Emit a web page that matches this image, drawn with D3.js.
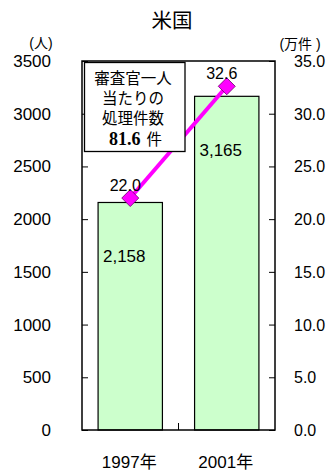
<!DOCTYPE html>
<html>
<head>
<meta charset="utf-8">
<script src="https://cdn.jsdelivr.net/npm/d3@7"></script>
<style>
  html, body { margin: 0; padding: 0; background: #fff; }
  svg { display: block; }
  text { font-family: "Liberation Sans", Arial, "Noto Sans CJK JP", sans-serif; fill: #000; }
  .jp { font-family: "Noto Sans CJK JP", "Noto Sans CJK SC", sans-serif; }
</style>
</head>
<body>
<svg id="chart" width="327" height="473"></svg>
<script>
// Examiners (people) and cases handled (10,000 cases), USA
const categories = ["1997年", "2001年"];
const examiners = [2158, 3165];
const casesPerYear = [22.0, 32.6];
const leftTicks = [0, 500, 1000, 1500, 2000, 2500, 3000, 3500];
const rightTicks = [0, 5, 10, 15, 20, 25, 30, 35];
const noteLines = ["審査官一人", "当たりの", "処理件数"];
const noteValue = 81.6;

const svg = d3.select("#chart");
const plot = { left: 82, right: 275, top: 61, bottom: 430 };

const x = d3.scaleBand()
  .domain(categories)
  .range([plot.left, plot.right])
  .paddingInner(1 / 3)
  .paddingOuter(1 / 6);
const xCat = d3.scaleBand().domain(categories).range([plot.left, plot.right]);
const yL = d3.scaleLinear().domain([0, 3500]).range([plot.bottom, plot.top]);
const yR = d3.scaleLinear().domain([0, 35]).range([plot.bottom, plot.top]);

// Title
svg.append("text").attr("class", "jp")
  .attr("x", 172).attr("y", 28)
  .attr("text-anchor", "middle")
  .style("font-size", "20.5px")
  .text("米国");

// Unit labels
svg.append("text")
  .attr("x", 41).attr("y", 48).attr("text-anchor", "middle")
  .style("font-size", "14px").text("(人)");
svg.append("text")
  .attr("x", 300).attr("y", 49).attr("text-anchor", "middle")
  .style("font-size", "14px").text("(万件 )");

// Bars
svg.append("g").selectAll("rect")
  .data(examiners)
  .join("rect")
  .attr("x", (d, i) => x(categories[i]))
  .attr("y", d => yL(d))
  .attr("width", x.bandwidth())
  .attr("height", d => plot.bottom - yL(d))
  .attr("fill", "#ccffcc")
  .attr("stroke", "#000")
  .attr("stroke-width", 1.2);

// Frame
svg.append("rect")
  .attr("x", plot.left).attr("y", plot.top)
  .attr("width", plot.right - plot.left)
  .attr("height", plot.bottom - plot.top)
  .attr("fill", "none")
  .attr("stroke", "#000")
  .attr("stroke-width", 1.5);

// Left axis (ticks pointing inward)
const leftAxis = svg.append("g")
  .attr("transform", `translate(${plot.left},0)`)
  .call(d3.axisRight(yL).tickValues(leftTicks).tickSize(6).tickFormat(""));
leftAxis.select(".domain").remove();
leftAxis.selectAll("line").attr("stroke", "#000");
svg.append("g").selectAll("text")
  .data(leftTicks)
  .join("text")
  .attr("x", 51).attr("y", d => yL(d) + 6)
  .attr("text-anchor", "end")
  .style("font-size", "17px")
  .text(d => d);

// Right axis (ticks pointing inward)
const rightAxis = svg.append("g")
  .attr("transform", `translate(${plot.right},0)`)
  .call(d3.axisLeft(yR).tickValues(rightTicks).tickSize(6).tickFormat(""));
rightAxis.select(".domain").remove();
rightAxis.selectAll("line").attr("stroke", "#000");
svg.append("g").selectAll("text")
  .data(rightTicks)
  .join("text")
  .attr("x", 294).attr("y", d => yR(d) + 6)
  .attr("text-anchor", "start")
  .style("font-size", "16px")
  .text(d => d3.format(".1f")(d));

// Category separator tick
svg.append("line")
  .attr("x1", xCat(categories[1])).attr("x2", xCat(categories[1]))
  .attr("y1", plot.bottom).attr("y2", plot.bottom - 7)
  .attr("stroke", "#000");

// Category labels
svg.append("g").selectAll("text")
  .data(categories)
  .join("text")
  .attr("x", d => x(d) + x.bandwidth() / 2 - 1)
  .attr("y", 468)
  .attr("text-anchor", "middle")
  .style("font-size", "17px")
  .text(d => d);

// Bar value labels
svg.append("g").selectAll("text")
  .data(examiners)
  .join("text")
  .attr("x", (d, i) => x(categories[i]) + x.bandwidth() / 2 - 6)
  .attr("y", d => yL(d) + 60)
  .attr("text-anchor", "middle")
  .style("font-size", "17px")
  .text(d => d3.format(",")(d));

// Cases-per-year line
const cx = (i) => x(categories[i]) + x.bandwidth() / 2;
svg.append("path")
  .datum(casesPerYear)
  .attr("d", d3.line().x((d, i) => cx(i)).y(d => yR(d)))
  .attr("fill", "none")
  .attr("stroke", "#ff00ff")
  .attr("stroke-width", 4);

svg.append("g").selectAll("path")
  .data(casesPerYear)
  .join("path")
  .attr("transform", (d, i) => `translate(${cx(i)},${yR(d)})`)
  .attr("d", "M0,-8.5L8.5,0L0,8.5L-8.5,0Z")
  .attr("fill", "#ff00ff")
  .attr("stroke", "#6a006a")
  .attr("stroke-width", 0.8);

svg.append("g").selectAll("text")
  .data(casesPerYear)
  .join("text")
  .attr("x", (d, i) => cx(i) - 5)
  .attr("y", d => yR(d) - 7)
  .attr("text-anchor", "middle")
  .style("font-size", "16px")
  .text(d => d3.format(".1f")(d));

// Note box
const note = svg.append("g");
note.append("rect")
  .attr("x", 84.5).attr("y", 62.5)
  .attr("width", 100.5).attr("height", 89)
  .attr("fill", "#fff")
  .attr("stroke", "#000")
  .attr("stroke-width", 1.3);
note.selectAll("text.line")
  .data(noteLines)
  .join("text").attr("class", "jp line")
  .attr("x", 133)
  .attr("y", (d, i) => 84 + i * 20)
  .attr("text-anchor", "middle")
  .style("font-size", "15.5px")
  .text(d => d);
const valText = note.append("text")
  .attr("x", 109).attr("y", 145);
valText.append("tspan")
  .style("font-family", "'Liberation Serif', 'Times New Roman', serif")
  .style("font-weight", "bold")
  .style("font-size", "18px")
  .text(noteValue.toFixed(1));
valText.append("tspan").attr("class", "jp")
  .attr("dx", 6)
  .style("font-size", "15.5px")
  .text("件");
</script>
</body>
</html>
